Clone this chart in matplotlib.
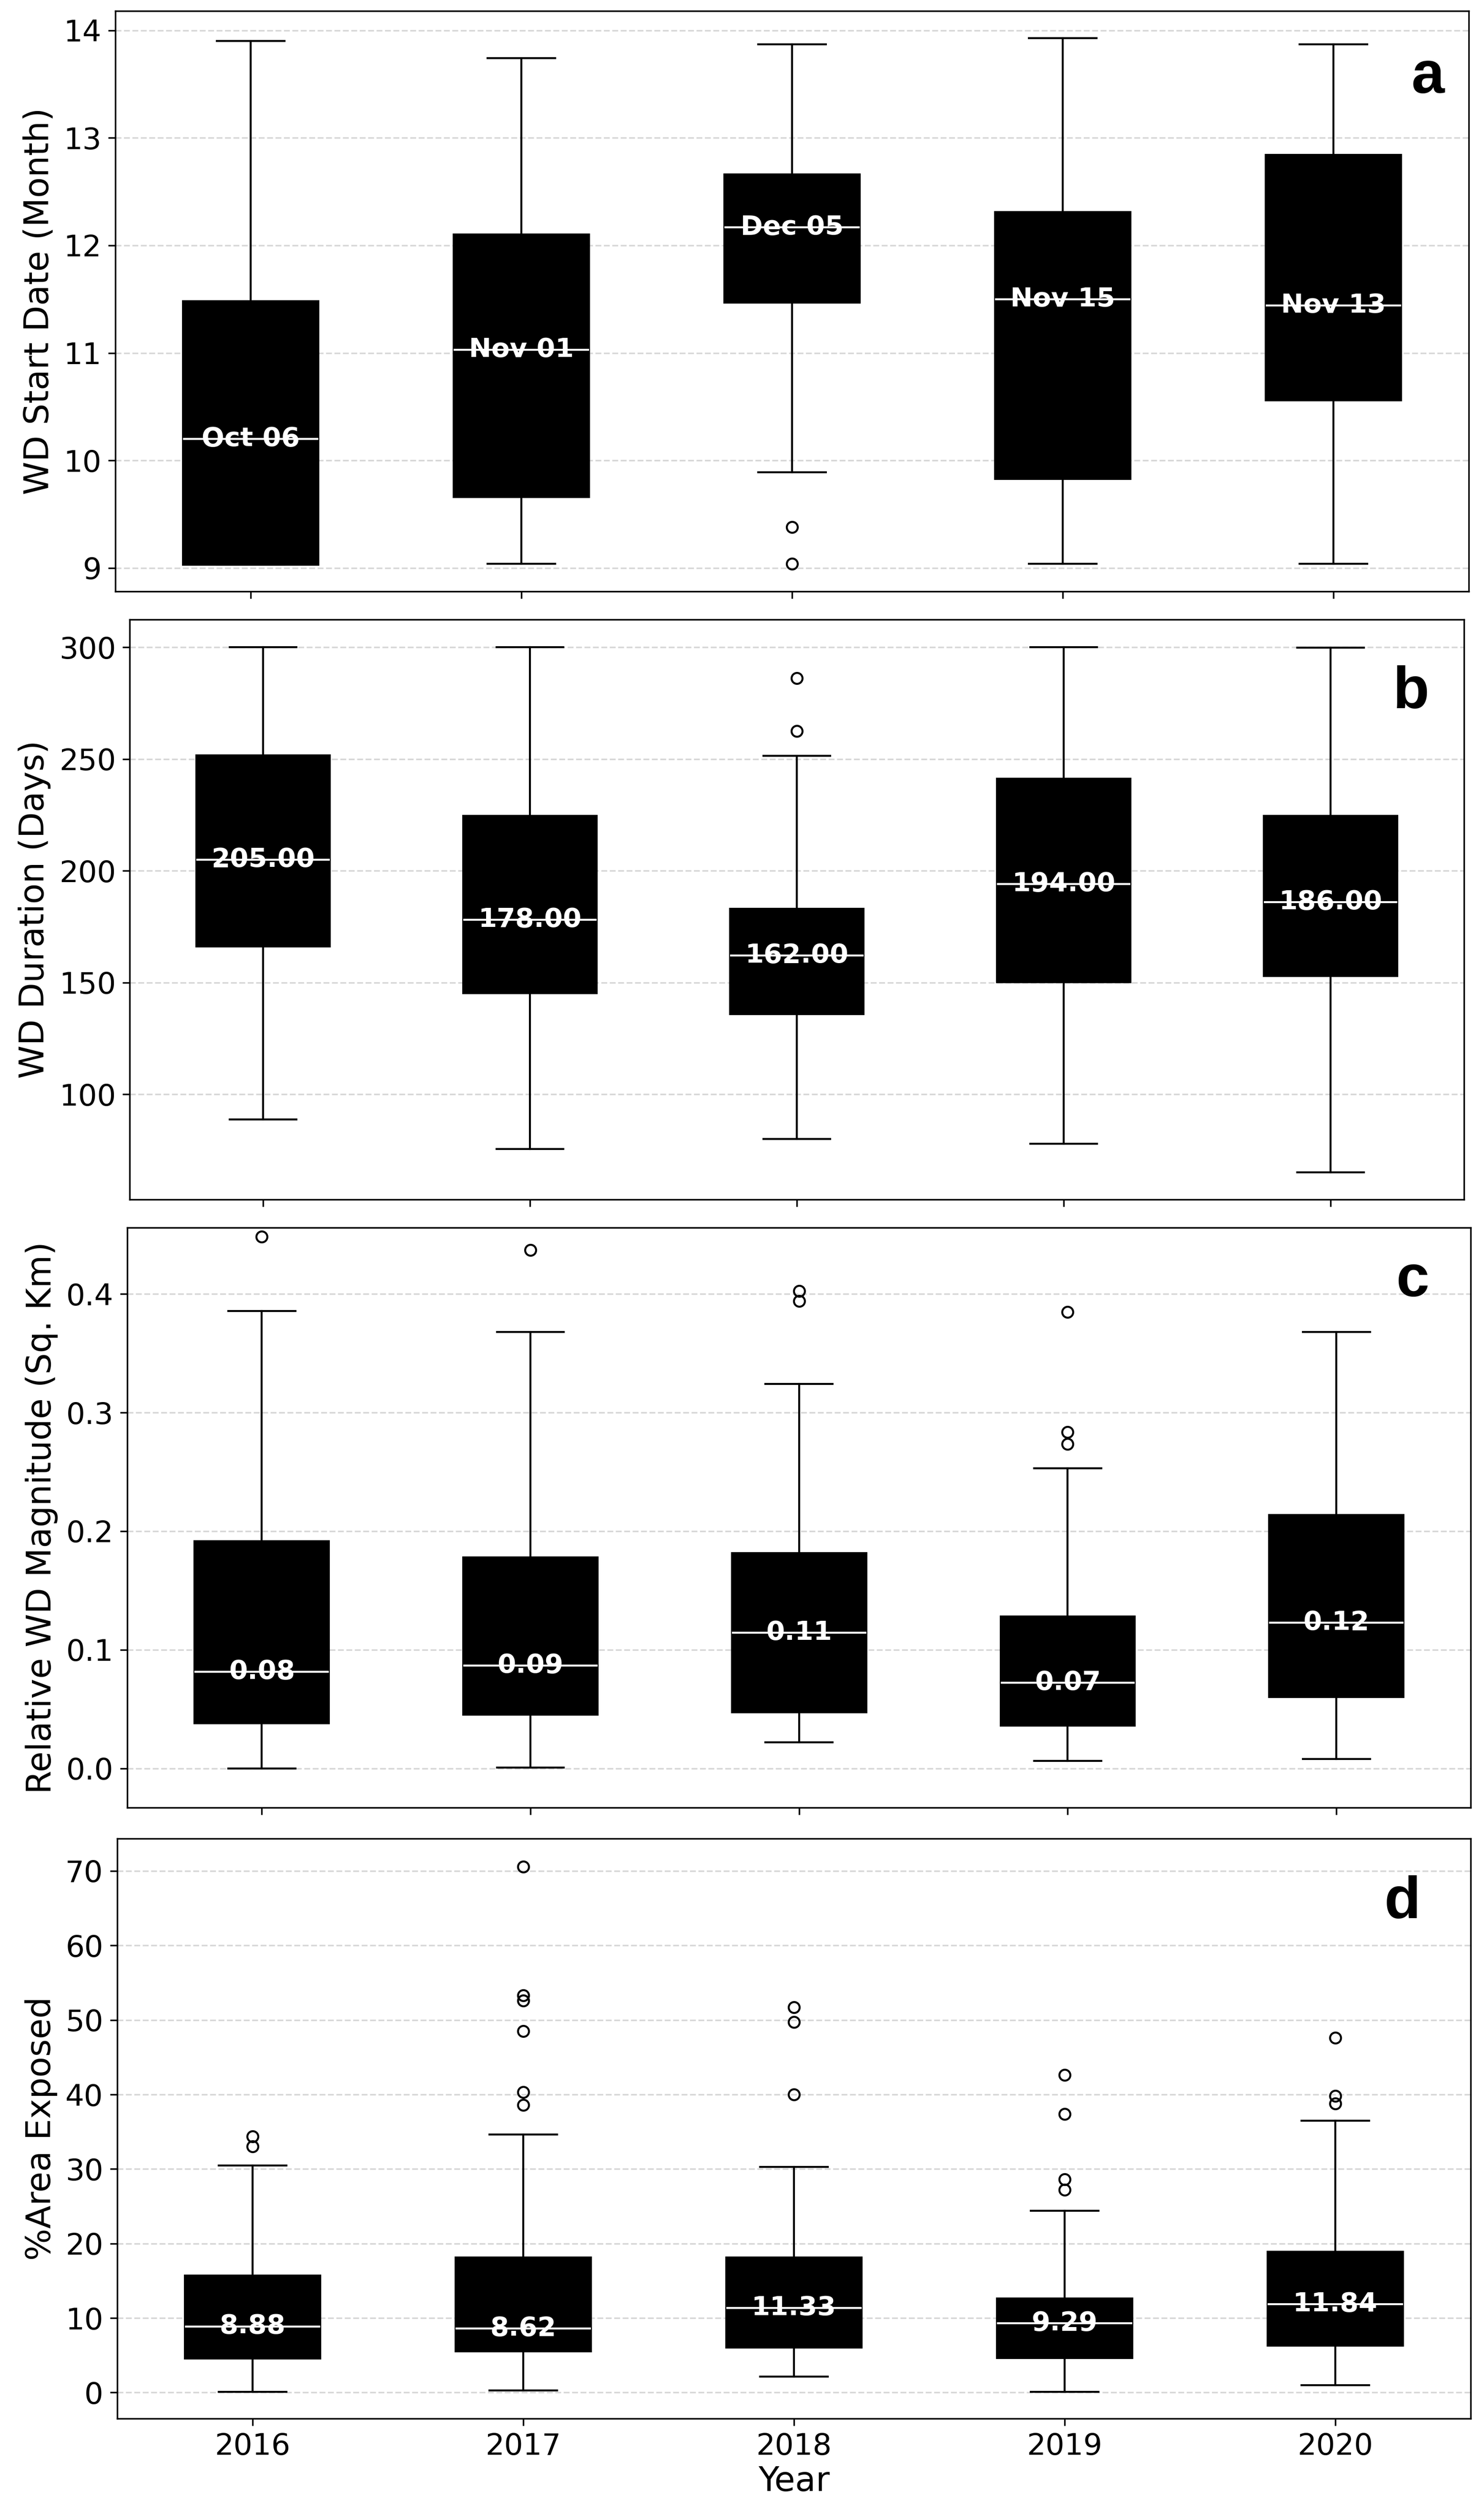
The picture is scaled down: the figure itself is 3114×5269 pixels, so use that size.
import matplotlib
matplotlib.use("Agg")
import matplotlib.pyplot as plt

#%% Data
years = [2016, 2017, 2018, 2019, 2020]

# a: WD start date (month)
start_whislo = [9.03, 9.04, 9.89, 9.04, 9.04]
start_q1 = [9.03, 9.66, 11.47, 9.83, 10.56]
start_med = [10.20, 11.03, 12.17, 11.50, 11.44]
start_q3 = [11.48, 12.10, 12.66, 12.31, 12.84]
start_whishi = [13.90, 13.74, 13.87, 13.93, 13.87]
start_fliers = [[], [], [9.38, 9.04], [], []]
start_text = ["Oct 06", "Nov 01", "Dec 05", "Nov 15", "Nov 13"]

# b: WD duration (days)
dur_whislo = [88.8, 75.5, 80.0, 77.8, 65.1]
dur_q1 = [166.2, 145.2, 135.8, 150.1, 152.8]
dur_med = [205, 178, 162, 194, 186]
dur_q3 = [251.6, 224.5, 183.0, 241.1, 224.5]
dur_whishi = [300, 300, 251.4, 300, 299.8]
dur_fliers = [[], [], [286.2, 262.5], [], []]
dur_text = ["205.00", "178.00", "162.00", "194.00", "186.00"]

# c: relative WD magnitude
mag_whislo = [0.0, 0.0007, 0.0218, 0.0062, 0.008]
mag_q1 = [0.0381, 0.0453, 0.0474, 0.036, 0.0602]
mag_med = [0.0813, 0.0865, 0.1145, 0.0723, 0.1228]
mag_q3 = [0.1917, 0.178, 0.1813, 0.128, 0.2135]
mag_whishi = [0.3855, 0.3678, 0.3242, 0.2529, 0.3678]
mag_fliers = [[0.4484], [0.437], [0.4024, 0.3941], [0.3848, 0.2837, 0.2737], []]
mag_text = ["0.08", "0.09", "0.11", "0.07", "0.12"]

# d: % area exposed
area_whislo = [0.12, 0.3, 2.16, 0.12, 1.0]
area_q1 = [4.55, 5.5, 6.05, 4.6, 6.3]
area_med = [8.88, 8.62, 11.33, 9.29, 11.84]
area_q3 = [15.7, 18.1, 18.1, 12.6, 18.9]
area_whishi = [30.5, 34.6, 30.3, 24.4, 36.5]
area_fliers = [[34.4, 33.0], [70.6, 53.3, 52.6, 48.5, 40.3, 38.6],
               [51.7, 49.7, 40.0], [42.6, 37.4, 28.6, 27.2], [47.6, 39.8, 38.8]]
area_text = ["8.88", "8.62", "11.33", "9.29", "11.84"]

#%% Helpers
def make_stats(lo, q1, med, q3, hi, fl):
    return [dict(whislo=a, q1=b, med=c, q3=d, whishi=e, fliers=f)
            for a, b, c, d, e, f in zip(lo, q1, med, q3, hi, fl)]

def draw_panel(ax, stats, texts, ylabel, letter, ylim, letter_pos):
    pos = list(range(1, len(stats) + 1))
    ax.bxp(stats, positions=pos, widths=0.5, patch_artist=True,
           boxprops=dict(facecolor="black", edgecolor="black", linewidth=1.0),
           medianprops=dict(color="white", linewidth=1.0),
           whiskerprops=dict(color="black", linewidth=1.0),
           capprops=dict(color="black", linewidth=1.0),
           flierprops=dict(marker="o", markerfacecolor="none",
                           markeredgecolor="black", markersize=5.5))
    for p, s, t in zip(pos, stats, texts):
        ax.text(p, s["med"], t, color="white", fontsize=13.5, fontweight="bold",
                ha="center", va="center")
    ax.grid(axis="y", linestyle="--", color="lightgray", linewidth=0.8, alpha=0.9)
    ax.set_xlim(0.5, len(stats) + 0.5)
    ax.set_ylim(*ylim)
    ax.set_ylabel(ylabel, fontsize=17)
    ax.tick_params(axis="both", labelsize=15)
    ax.text(letter_pos[0], letter_pos[1], letter, transform=ax.transAxes,
            ha="right", va="baseline", fontsize=30, fontweight="bold",
            family="Liberation Sans")
    ax.set_xticks(pos)

#%% Figure
fig = plt.figure(figsize=(3114 / 300, 5269 / 300), dpi=300)

ax_a = fig.add_axes([0.0777, 0.7644, 0.9897 - 0.0777, 0.9956 - 0.7644])
ax_b = fig.add_axes([0.0875, 0.5223, 0.9865 - 0.0875, 0.7533 - 0.5223])
ax_c = fig.add_axes([0.0859, 0.2801, 0.9910 - 0.0859, 0.5111 - 0.2801])
ax_d = fig.add_axes([0.0790, 0.0368, 0.9910 - 0.0790, 0.2678 - 0.0368])

draw_panel(ax_a, make_stats(start_whislo, start_q1, start_med, start_q3, start_whishi, start_fliers),
           start_text, "WD Start Date (Month)", "a", (8.78, 14.18), (0.982, 0.859))
draw_panel(ax_b, make_stats(dur_whislo, dur_q1, dur_med, dur_q3, dur_whishi, dur_fliers),
           dur_text, "WD Duration (Days)", "b", (52.9, 312.4), (0.974, 0.847))
draw_panel(ax_c, make_stats(mag_whislo, mag_q1, mag_med, mag_q3, mag_whishi, mag_fliers),
           mag_text, "Relative WD Magnitude (Sq. Km)", "c", (-0.0332, 0.456), (0.969, 0.882))
draw_panel(ax_d, make_stats(area_whislo, area_q1, area_med, area_q3, area_whishi, area_fliers),
           area_text, "%Area Exposed", "d", (-3.5, 74.35), (0.963, 0.863))

for ax in (ax_a, ax_b, ax_c):
    ax.set_xticklabels([])
ax_d.set_xticklabels([str(y) for y in years])
ax_d.set_xlabel("Year", fontsize=17, labelpad=2)

fig.savefig("out.png", dpi=300)
